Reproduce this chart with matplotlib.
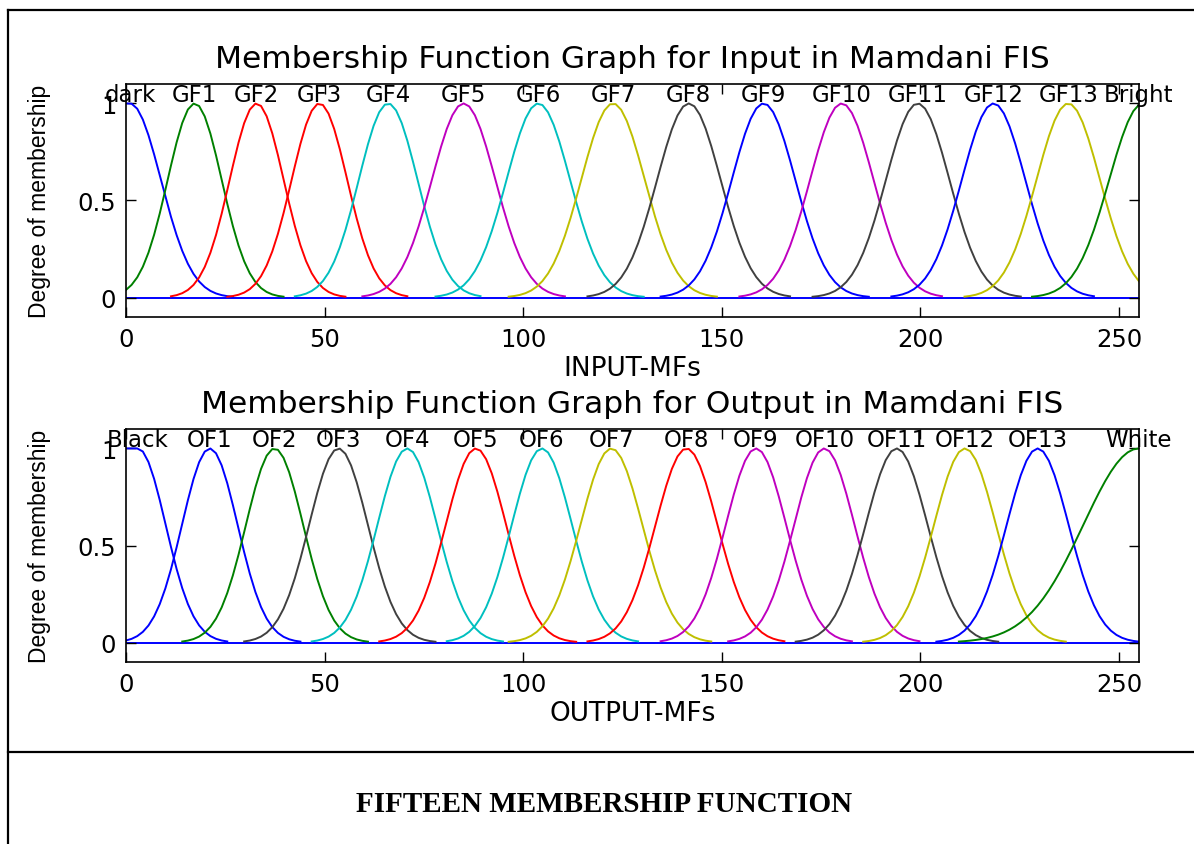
import numpy as np
import matplotlib
matplotlib.use("Agg")
from matplotlib import pyplot as plt
from matplotlib.lines import Line2D

plt.rcParams['font.family'] = ['DejaVu Sans']

# matlab style colours
blue = (0, 0, 1)
green = (0, 0.5, 0)
red = (1, 0, 0)
cyan = (0, 0.75, 0.75)
magenta = (0.75, 0, 0.75)
yellow = (0.75, 0.75, 0)
gray = (0.25, 0.25, 0.25)

# input membership functions (gaussian centre / sigma)
in_names = ['dark', 'GF1', 'GF2', 'GF3', 'GF4', 'GF5', 'GF6', 'GF7', 'GF8',
            'GF9', 'GF10', 'GF11', 'GF12', 'GF13', 'Bright']
in_centers = [1, 17.3, 32.9, 48.7, 66.0, 85.0, 103.8, 122.6, 141.7,
              160.5, 180.2, 199.3, 218.4, 237.2, 256]
in_sigmas = [7.8, 6.8, 6.8, 7.0, 7.4, 8.0, 8.0, 8.0, 8.0,
             8.0, 8.0, 8.0, 8.0, 8.0, 8.5]
in_colors = [blue, green, red, red, cyan, magenta, cyan, yellow, gray,
             blue, magenta, gray, blue, yellow, green]

# output membership functions
out_names = ['Black', 'OF1', 'OF2', 'OF3', 'OF4', 'OF5', 'OF6', 'OF7', 'OF8',
             'OF9', 'OF10', 'OF11', 'OF12', 'OF13', 'White']
out_centers = [3, 21.1, 37.4, 53.5, 70.8, 88.1, 104.7, 122.2, 141.1,
               158.6, 175.8, 194.0, 211.2, 229.5, 255]
out_sigmas = [7.0, 7.0, 7.2, 7.4, 7.5, 7.6, 7.6, 7.8, 7.8,
              7.6, 7.6, 7.8, 7.8, 7.8, 14]
out_colors = [blue, blue, green, gray, cyan, red, cyan, yellow, red,
              magenta, magenta, gray, yellow, blue, green]

fig = plt.figure(figsize=(11.94, 8.45), dpi=100)


def draw_mfs(rect, names, centers, sigmas, colors, title, xlabel):
    ax = fig.add_axes(rect)
    x = np.linspace(0, 255, 181)
    ax.axhline(0, color=blue, lw=1.4, zorder=1)
    last = len(centers) - 1
    for i in range(len(centers)):
        c, s = centers[i], sigmas[i]
        y = np.exp(-(x - c) ** 2 / (2 * s ** 2))
        if i == 0:
            y[x < c] = 1
        if i == last:
            y[x > c] = 1
        y[y < 0.004] = np.nan
        ax.plot(x, y, color=colors[i], lw=1.4, zorder=2)
        ax.text(min(max(c, 0), 255), 1.01, names[i], ha='center', va='baseline',
                fontsize=16.5, zorder=5, clip_on=False)
    ax.set_xlim(0, 255)
    ax.set_ylim(-0.1, 1.1)
    ax.set_xticks([0, 50, 100, 150, 200, 250])
    ax.set_yticks([0, 0.5, 1])
    ax.set_yticklabels(['0', '0.5', '1'])
    ax.tick_params(direction='in', length=7, width=1, top=True, right=True,
                   labelsize=17.5, pad=7)
    for sp in ax.spines.values():
        sp.set_linewidth(1.2)
    ax.set_title(title, fontsize=22.5, pad=12)
    ax.set_xlabel(xlabel, fontsize=19, labelpad=3)
    ax.set_ylabel('Degree of membership', fontsize=16.5,
                  family=['Liberation Sans', 'DejaVu Sans'], labelpad=19)
    return ax


draw_mfs([0.1055, 0.6237, 0.8484, 0.2757], in_names, in_centers, in_sigmas,
         in_colors, 'Membership Function Graph for Input in Mamdani FIS', 'INPUT-MFs')
draw_mfs([0.1055, 0.2154, 0.8484, 0.2757], out_names, out_centers, out_sigmas,
         out_colors, 'Membership Function Graph for Output in Mamdani FIS', 'OUTPUT-MFs')

# table frame around the figure
W, H = 1194.0, 845.0
fig.add_artist(Line2D([8 / W, 1], [1 - 11 / H, 1 - 11 / H], color='black', lw=1.6))
fig.add_artist(Line2D([8 / W, 8 / W], [0, 1 - 11 / H], color='black', lw=1.6))
fig.add_artist(Line2D([8 / W, 1], [1 - 753 / H, 1 - 753 / H], color='black', lw=1.6))

fig.text(604 / W, 1 - 805 / H, 'FIFTEEN MEMBERSHIP FUNCTION', ha='center', va='center',
         fontsize=21, fontweight='bold', family=['Liberation Serif', 'DejaVu Serif'])

fig.savefig('out.png', dpi=100)
